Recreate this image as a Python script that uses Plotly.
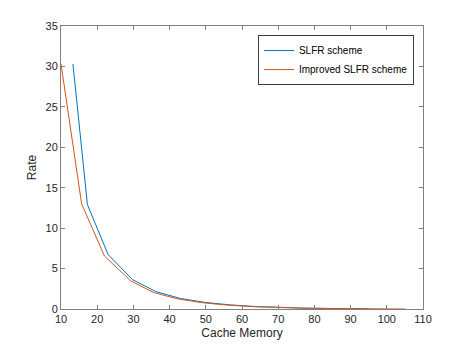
import plotly.graph_objects as go

# SLFR scheme (blue)
slfr_x = [13.3, 17.3, 23.0, 29.7, 36.2, 43.0, 50.0, 57.0, 64.0, 71.0, 78.0, 85.0, 92.0, 95.0]
slfr_y = [30.3, 12.9, 6.75, 3.65, 2.15, 1.3, 0.8, 0.5, 0.3, 0.18, 0.1, 0.06, 0.03, 0.02]

# Improved SLFR scheme (orange)
imp_x = [10.0, 15.7, 22.0, 29.2, 35.5, 42.0, 49.0, 56.0, 63.0, 70.0, 77.0, 84.0, 91.0, 98.0, 105.0]
imp_y = [30.3, 13.0, 6.55, 3.5, 2.05, 1.27, 0.78, 0.48, 0.29, 0.17, 0.1, 0.06, 0.03, 0.01, 0.0]

x_ticks = [10, 20, 30, 40, 50, 60, 70, 80, 90, 100, 110]
y_ticks = [0, 5, 10, 15, 20, 25, 30, 35]

FONT = "Liberation Sans, Arial, sans-serif"
AX = "rgb(38,38,38)"

fig = go.Figure()
fig.add_trace(go.Scatter(x=slfr_x, y=slfr_y, mode="lines", name="SLFR scheme",
                         line=dict(color="#0072BD", width=1)))
fig.add_trace(go.Scatter(x=imp_x, y=imp_y, mode="lines", name="Improved SLFR scheme",
                         line=dict(color="#D95319", width=1)))

axis_style = dict(
    showline=True, linecolor="rgb(128,128,128)", linewidth=1, mirror="allticks",
    ticks="inside", ticklen=4, tickcolor="rgb(128,128,128)", tickwidth=1,
    showgrid=False, zeroline=False,
    tickfont=dict(family=FONT, size=11, color=AX),
)
fig.update_xaxes(range=[10, 110], tickvals=x_ticks,
                 title=dict(text="Cache Memory", font=dict(family=FONT, size=12, color=AX), standoff=4),
                 **axis_style)
fig.update_yaxes(range=[0, 35], tickvals=y_ticks,
                 title=dict(text="Rate", font=dict(family=FONT, size=12, color=AX), standoff=6),
                 **axis_style)

# page body adds an 8px offset, so the figure is sized to compensate
fig.update_layout(
    width=459, height=342,
    margin=dict(l=53, r=44, t=18, b=39),
    paper_bgcolor="white", plot_bgcolor="white",
    font=dict(family=FONT, size=11, color=AX),
    legend=dict(x=0.975, y=0.968, xanchor="right", yanchor="top",
                bgcolor="white", bordercolor="rgb(60,60,60)", borderwidth=1,
                font=dict(family=FONT, size=10, color="black"),
                tracegroupgap=0, itemwidth=30),
    showlegend=True,
)

fig.write_html("out.html")
